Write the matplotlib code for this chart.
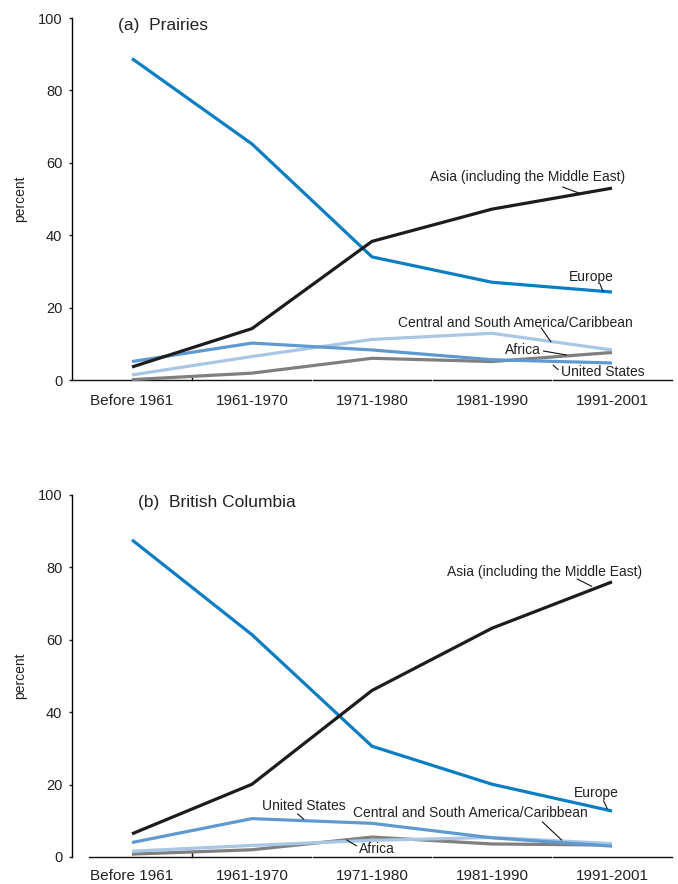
import matplotlib
matplotlib.use("Agg")
import matplotlib.pyplot as plt

plt.rcParams['font.family'] = ['Liberation Sans', 'DejaVu Sans']

periods = ["Before 1961", "1961-1970", "1971-1980", "1981-1990", "1991-2001"]
y_ticks = [0, 20, 40, 60, 80, 100]

# Share of immigrants by region of birth (percent), Prairies
prairies_europe = [88.8, 65.2, 34.0, 27.0, 24.3]
prairies_asia = [3.6, 14.2, 38.3, 47.2, 53.0]
prairies_us = [5.1, 10.2, 8.3, 5.6, 4.7]
prairies_csa = [1.4, 6.5, 11.2, 12.9, 8.3]
prairies_africa = [0.1, 1.9, 6.0, 5.1, 7.6]

# Share of immigrants by region of birth (percent), British Columbia
bc_europe = [87.6, 61.4, 30.6, 20.1, 12.7]
bc_asia = [6.4, 20.1, 46.0, 63.2, 76.0]
bc_us = [4.0, 10.6, 9.3, 5.3, 3.0]
bc_csa = [1.6, 3.2, 4.6, 5.4, 3.7]
bc_africa = [0.8, 2.0, 5.5, 3.6, 3.3]

colors = {
    "europe": "#0b7dc3",
    "asia": "#1c1c1c",
    "us": "#5f99d0",
    "csa": "#a9c6e5",
    "africa": "#7f7f80",
}

fig = plt.figure(figsize=(6.78, 8.84), dpi=100)
ax_a = fig.add_axes([72 / 678, 1 - 380 / 884, 600 / 678, 362 / 884])
ax_b = fig.add_axes([72 / 678, 1 - 857 / 884, 600 / 678, 362 / 884])

x = list(range(len(periods)))


def draw_panel(ax, title, title_x, series, labels, axis_start, xpad):
    order = ["africa", "csa", "us", "europe", "asia"]
    for key in order:
        ax.plot(x, series[key], color=colors[key], lw=2.3, clip_on=False,
                solid_joinstyle="round", solid_capstyle="butt", zorder=3)
    ax.set_xlim(-0.5, 4.5)
    ax.set_ylim(0, 100)
    for s in ["top", "right", "bottom"]:
        ax.spines[s].set_visible(False)
    ax.spines["left"].set_linewidth(1.0)
    ax.set_yticks(y_ticks)
    ax.tick_params(axis="y", length=2, width=1, direction="out", pad=5,
                   labelsize=10.5, colors="#222222")
    ax.set_xticks(x)
    ax.set_xticklabels(periods, fontsize=11, color="#222222")
    ax.tick_params(axis="x", length=0, pad=xpad)
    ax.set_ylabel("percent", fontsize=10, color="#222222")
    ax.yaxis.set_label_coords(-0.075, 0.5)

    # baseline split into segments at the period boundaries
    gap = 0.012
    segs = [(axis_start, 1.5 - gap), (1.5 + gap, 2.5 - gap),
            (2.5 + gap, 3.5 - gap), (3.5 + gap, 4.5)]
    for a, b in segs:
        ax.plot([a, b], [0, 0], color="#111111", lw=1.0, clip_on=False,
                zorder=2)
    ax.plot([0.5, 0.5], [0, 1.0], color="#111111", lw=1.0, clip_on=False,
            zorder=2)

    ax.text(title_x, 97.8, title, fontsize=12.5, color="#222222",
            ha="left", va="center")

    for text, tx, ty, ha, leader in labels:
        ax.text(tx, ty, text, fontsize=10, color="#222222", ha=ha,
                va="center", zorder=4)
        if leader is not None:
            (x0, y0), (x1, y1) = leader
            ax.plot([x0, x1], [y0, y1], color="#111111", lw=0.8, zorder=4)


draw_panel(
    ax_a, "(a)  Prairies", -0.12,
    {"europe": prairies_europe, "asia": prairies_asia, "us": prairies_us,
     "csa": prairies_csa, "africa": prairies_africa},
    [
        ("Asia (including the Middle East)", 3.30, 56.1, "center",
         ((3.59, 53.3), (3.72, 51.7))),
        ("Europe", 3.825, 28.5, "center", ((3.90, 26.5), (3.925, 24.5))),
        ("Central and South America/Caribbean", 4.17, 15.7, "right",
         ((3.41, 14.4), (3.49, 10.6))),
        ("Africa", 3.26, 8.3, "center", ((3.43, 8.0), (3.62, 6.9))),
        ("United States", 3.92, 2.2, "center", ((3.51, 4.1), (3.55, 2.9))),
    ],
    -0.5, 10,
)

draw_panel(
    ax_b, "(b)  British Columbia", 0.05,
    {"europe": bc_europe, "asia": bc_asia, "us": bc_us,
     "csa": bc_csa, "africa": bc_africa},
    [
        ("Asia (including the Middle East)", 3.44, 78.7, "center",
         ((3.71, 76.8), (3.83, 74.8))),
        ("Europe", 3.87, 17.7, "center", ((3.93, 15.5), (3.96, 13.4))),
        ("Central and South America/Caribbean", 3.80, 12.2, "right",
         ((3.42, 9.7), (3.58, 4.7))),
        ("United States", 1.43, 14.1, "center", ((1.38, 11.9), (1.43, 10.5))),
        ("Africa", 2.04, 2.2, "center", ((1.79, 4.7), (1.87, 3.1))),
    ],
    -0.36, 8.5,
)

fig.savefig("out.png", dpi=100)
